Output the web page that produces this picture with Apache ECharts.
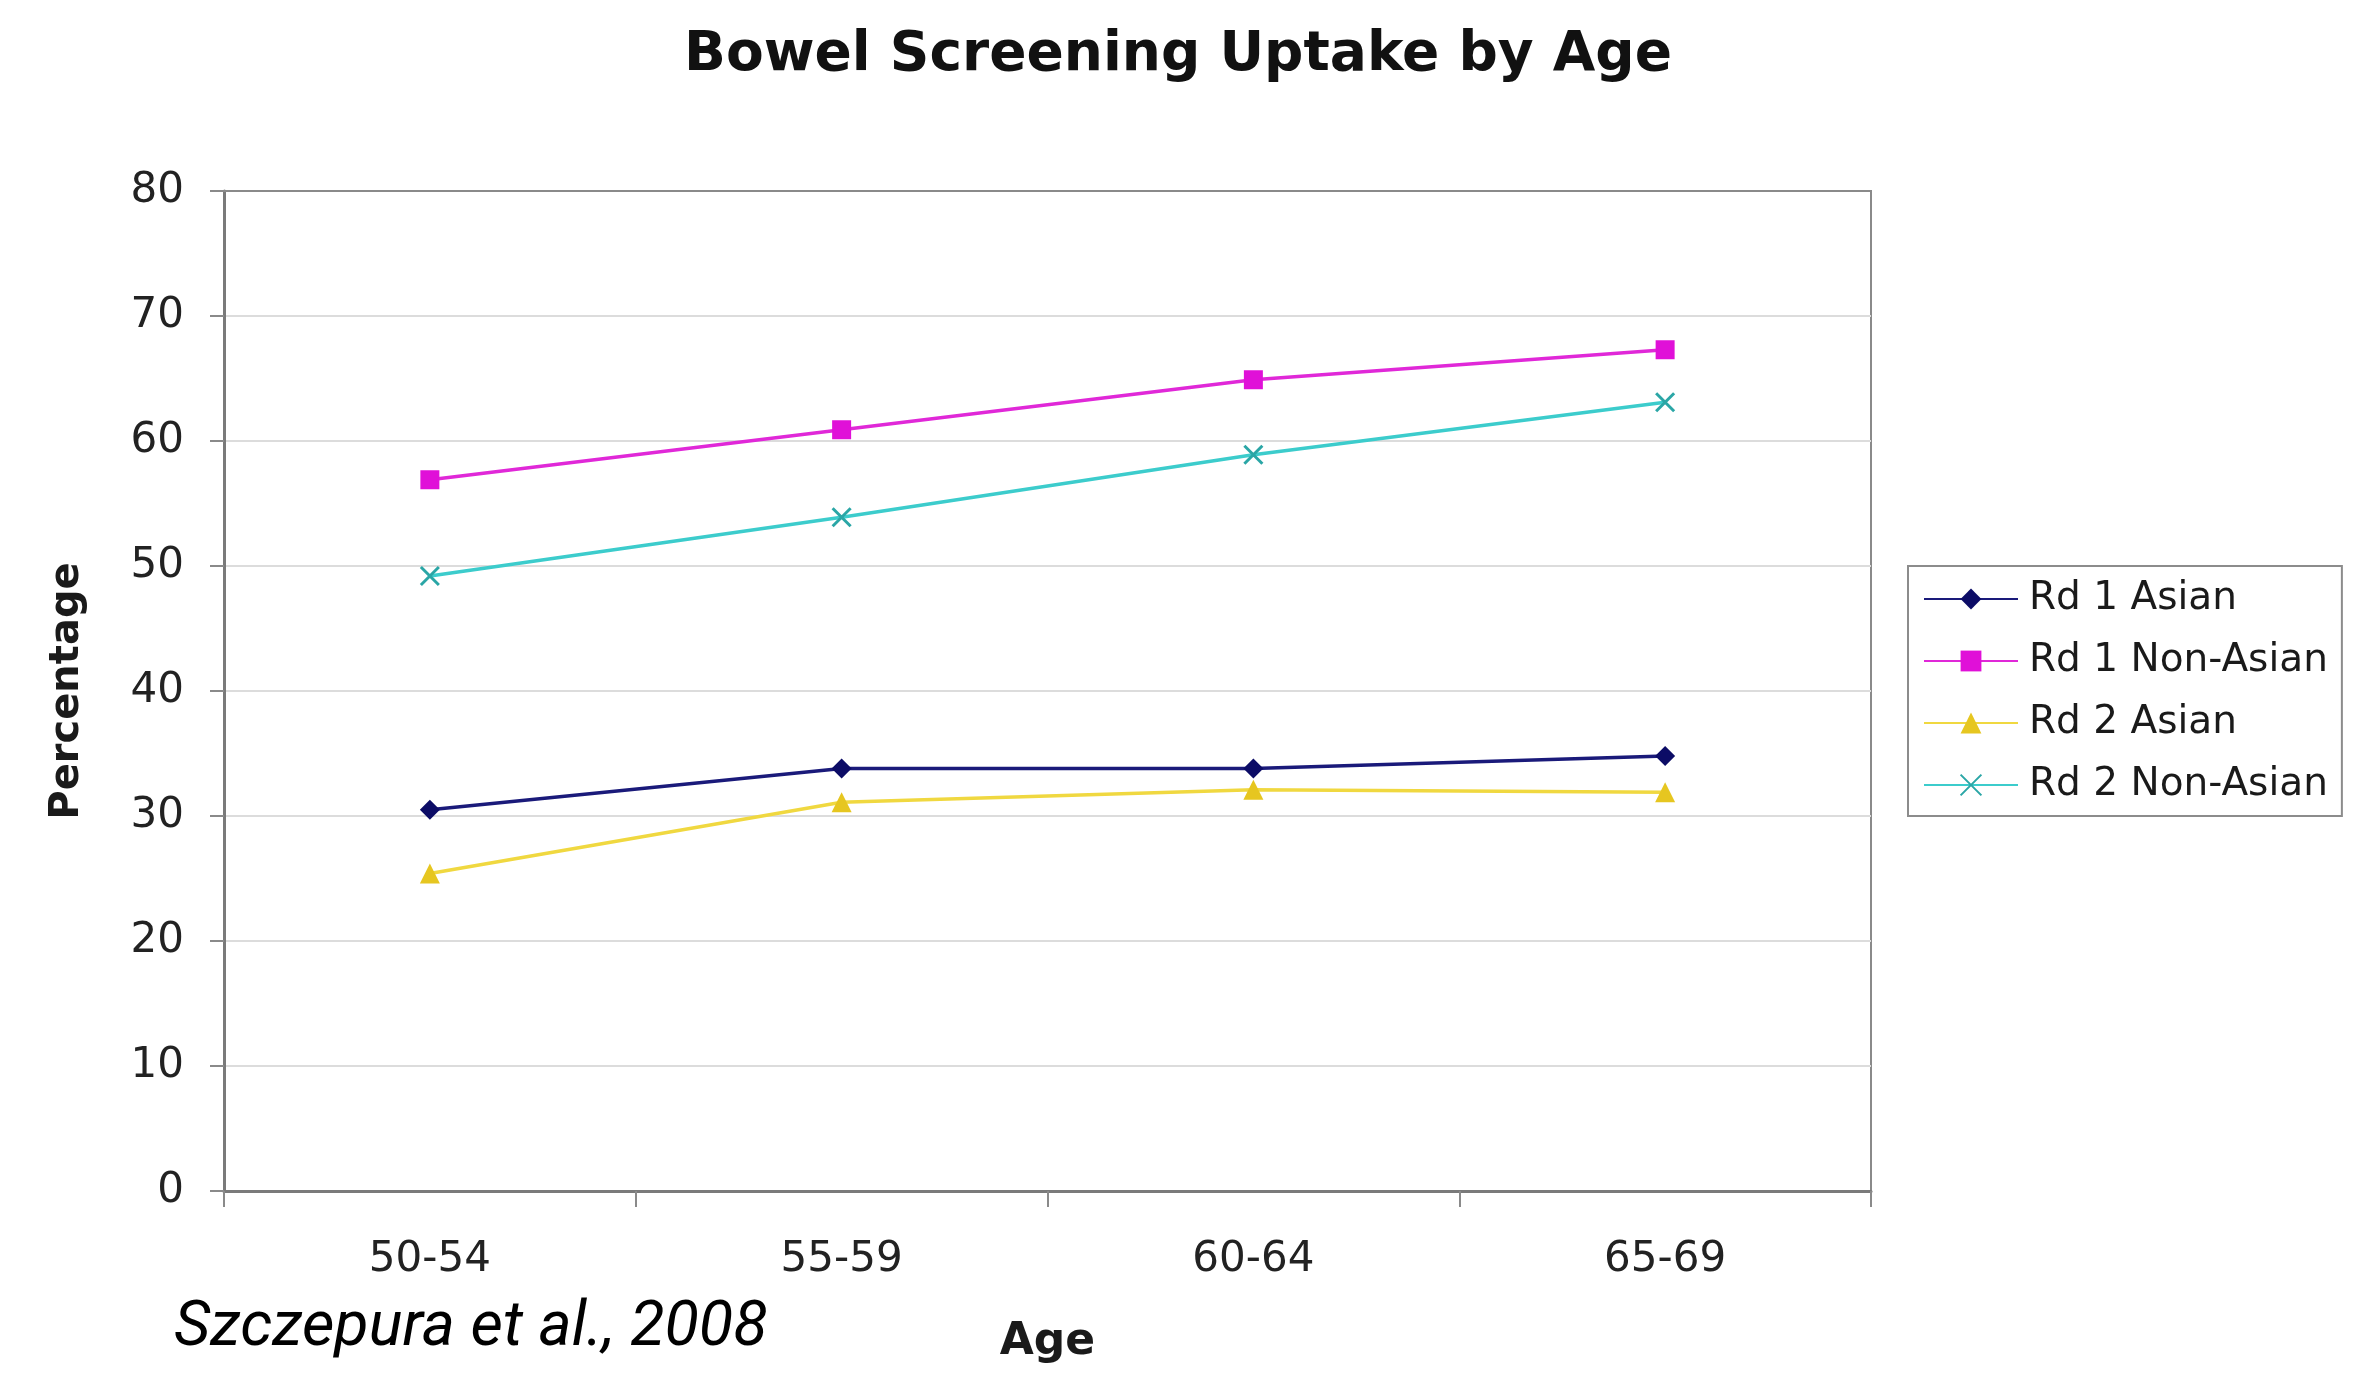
<!DOCTYPE html>
<html>
<head>
<meta charset="utf-8">
<title>Bowel Screening Uptake by Age</title>
<script src="https://cdn.jsdelivr.net/npm/echarts@6/dist/echarts.min.js"></script>
<style>
  html, body { margin: 0; padding: 0; background: #ffffff; }
  #chart { width: 2369px; height: 1376px; }
</style>
</head>
<body>
<div id="chart"></div>
<script>
// Age bands on the x axis
const ageBands = ['50-54', '55-59', '60-64', '65-69'];

// Uptake percentages per round and group
const rd1Asian = [30.5, 33.8, 33.8, 34.8];
const rd1NonAsian = [56.9, 60.9, 64.9, 67.3];
const rd2Asian = [25.4, 31.1, 32.1, 31.9];
const rd2NonAsian = [49.2, 53.9, 58.9, 63.1];

// Y axis range and step
const yMin = 0;
const yMax = 80;
const yStep = 10;

const chart = echarts.init(document.getElementById('chart'));

const labelFont = 'DejaVu Sans';
const crossPath = 'path://M0,0L10,10M10,0L0,10';

function lineSeries(name, data, color, symbol, size, markerStyle) {
  return {
    name: name,
    type: 'line',
    data: data,
    symbol: symbol,
    symbolSize: size,
    showAllSymbol: true,
    lineStyle: { color: color, width: 3.5 },
    itemStyle: markerStyle,
    emphasis: { disabled: true },
    z: 3
  };
}

chart.setOption({
  backgroundColor: '#ffffff',
  animation: false,
  title: [
    {
      text: 'Bowel Screening Uptake by Age',
      left: 684,
      top: 28,
      padding: 0,
      textStyle: { fontFamily: labelFont, fontWeight: 'bold', fontSize: 55, color: '#111' }
    },
    {
      text: 'Szczepura et al., 2008',
      left: 174,
      top: 1298,
      padding: 0,
      textStyle: { fontFamily: 'Roboto', fontStyle: 'italic', fontWeight: 'normal', fontSize: 63, color: '#000' }
    }
  ],
  legend: {
    orient: 'vertical',
    left: 1908,
    top: 566,
    padding: [12, 14, 10, 15],
    itemWidth: 94,
    itemHeight: 26,
    itemGap: 20,
    borderColor: '#8c8c8c',
    borderWidth: 2,
    textStyle: { fontFamily: labelFont, fontSize: 39, color: '#1a1a1a', lineHeight: 42, padding: [0, 0, 0, 6] },
    data: ['Rd 1 Asian', 'Rd 1 Non-Asian', 'Rd 2 Asian', 'Rd 2 Non-Asian']
  },
  grid: {
    left: 224,
    right: 498,
    top: 191,
    bottom: 185,
    show: true,
    borderColor: '#8a8a8a',
    borderWidth: 2,
    backgroundColor: 'transparent'
  },
  xAxis: [
    {
      type: 'category',
      data: ageBands,
      boundaryGap: true,
      name: 'Age',
      nameLocation: 'middle',
      nameGap: 130,
      nameTextStyle: { fontFamily: labelFont, fontWeight: 'bold', fontSize: 44, color: '#1a1a1a' },
      axisLine: { show: true, lineStyle: { color: '#7a7a7a', width: 3 } },
      axisTick: { show: true, alignWithLabel: false, interval: 0, length: 16, lineStyle: { color: '#8a8a8a', width: 2 } },
      axisLabel: { fontFamily: labelFont, fontSize: 42, color: '#222', margin: 48 },
      splitLine: { show: false }
    },
    {
      // top edge of the plot frame
      type: 'category',
      data: ageBands,
      position: 'top',
      axisLine: { show: true, lineStyle: { color: '#8a8a8a', width: 2 } },
      axisTick: { show: false },
      axisLabel: { show: false },
      splitLine: { show: false }
    }
  ],
  yAxis: {
    type: 'value',
    min: yMin,
    max: yMax,
    interval: yStep,
    name: 'Percentage',
    nameLocation: 'middle',
    nameRotate: 90,
    nameGap: 136,
    nameTextStyle: { fontFamily: labelFont, fontWeight: 'bold', fontSize: 40, color: '#1a1a1a' },
    axisLine: { show: true, lineStyle: { color: '#7a7a7a', width: 3 } },
    axisTick: { show: true, length: 14, lineStyle: { color: '#8a8a8a', width: 2 } },
    axisLabel: { fontFamily: labelFont, fontSize: 42, color: '#222', margin: 40 },
    splitLine: { show: true, lineStyle: { color: '#dcdcdc', width: 2 } }
  },
  series: [
    lineSeries('Rd 1 Asian', rd1Asian, '#1a1a7a', 'diamond', 20, { color: '#0c0c66' }),
    lineSeries('Rd 1 Non-Asian', rd1NonAsian, '#e028d8', 'rect', 19, { color: '#e010d8' }),
    lineSeries('Rd 2 Asian', rd2Asian, '#f0d840', 'triangle', 20, { color: '#e6c620' }),
    lineSeries('Rd 2 Non-Asian', rd2NonAsian, '#3ccccc', crossPath, 18,
      { color: 'rgba(0,0,0,0)', borderColor: '#2aa6a6', borderWidth: 3 })
  ]
});
</script>
</body>
</html>
